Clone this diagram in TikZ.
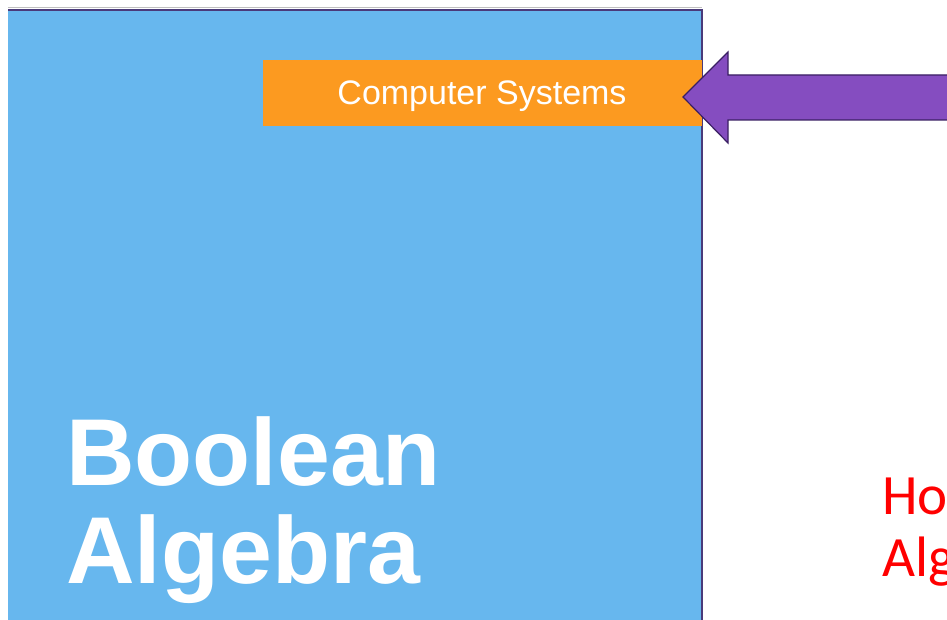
\documentclass[tikz,border=0pt]{standalone}
\usepackage{fontspec}
\setmainfont{Liberation Sans}
\newfontfamily\slidefont{Carlito}
\definecolor{coverblue}{HTML}{67B7EE}
\definecolor{banner}{HTML}{FC9A20}
\definecolor{arrowfill}{HTML}{854DC0}
\definecolor{arrowline}{HTML}{3A1F63}
\definecolor{edgeline}{HTML}{4A3A7A}
\tikzset{
  banner/.style={fill=banner, inner sep=0pt, minimum width=439pt, minimum height=66pt,
    text=white, font=\fontsize{34}{38}\selectfont},
  covertitle/.style={anchor=base west, inner sep=0pt, text=white,
    font=\fontsize{95}{98}\selectfont\bfseries},
  redtitle/.style={anchor=base west, inner sep=0pt, text=red,
    font=\slidefont\fontsize{57}{62}\selectfont},
}
\begin{document}
\begin{tikzpicture}[x=1pt,y=-1pt]
  \useasboundingbox (0,0) rectangle (947,620);
  \clip (0,0) rectangle (947,620);
  \fill[white] (0,0) rectangle (947,620);
  % book cover
  \fill[coverblue] (8,10) rectangle (702,621);
  \draw[black!25, line width=1pt] (8,8) -- (702,8);
  \draw[edgeline, line width=1.2pt] (8,10) -- (702,10) -- (702,621);
  % series banner
  \node[banner] (series) at (482.5,93) {};
  \node[anchor=base, inner sep=0pt, text=white, font=\fontsize{34}{38}\selectfont]
    (serieslabel) at (482,105) {Computer Systems};
  % cover title
  \node[covertitle] (title1) at (66,485) {Boolean};
  \node[covertitle] (title2) at (66,583) {Algebra};
  % pointer arrow
  \coordinate (tip) at (683,97);
  \draw[arrowline, fill=arrowfill, line width=1.2pt, line join=miter]
    (tip) -- (728,52) -- (728,75) -- (950,75) -- (950,120) -- (728,120) -- (728,143) -- cycle;
  % red heading on the right
  \node[redtitle] (head1) at (882,514) {Ho};
  \node[redtitle] (head2) at (882,576) {Alg};
\end{tikzpicture}
\end{document}
